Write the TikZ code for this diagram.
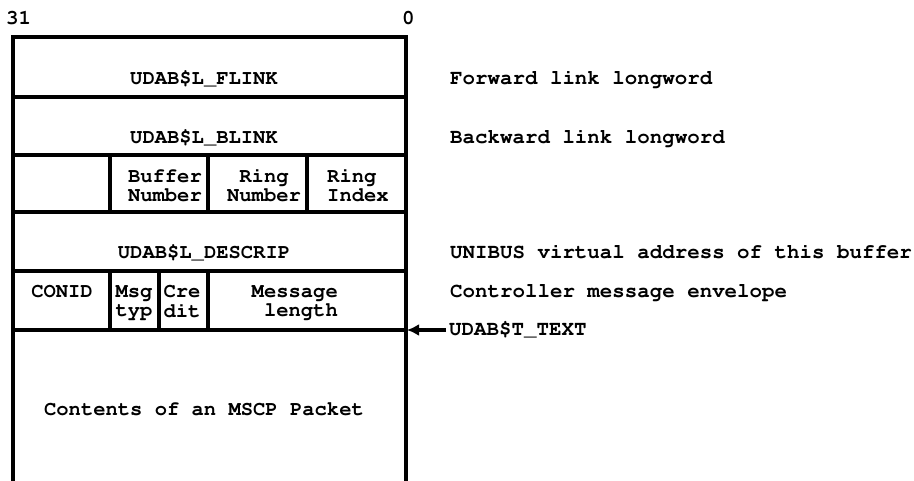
\documentclass[tikz,border=0pt]{standalone}
\usepackage[T1]{fontenc}
\usetikzlibrary{arrows.meta}
\newcommand{\cour}[1]{\fontfamily{pcr}\fontseries{b}\fontsize{#1}{19}\selectfont}
\begin{document}
\begin{tikzpicture}[x=1pt,y=-1pt,
  txt/.style={font=\cour{20.5}, inner sep=0pt, anchor=base},
  lbl/.style={font=\cour{20.8}, inner sep=0pt, anchor=base west},
  rule/.style={line width=3.6pt, line join=miter, line cap=butt},
  ptr/.style={line width=4pt, -{Latex[length=12pt,width=12pt]}}]
\useasboundingbox (0,0) rectangle (914,481);
% outline (open at the bottom)
\draw[rule] (13,481) -- (13,37) -- (406,37) -- (406,481);
% horizontal rules
\foreach \yy in {97,155,212,271,330} \draw[rule] (13,\yy) -- (406,\yy);
% row 3 dividers
\foreach \xx in {110,208,307} \draw[rule] (\xx,155) -- (\xx,212);
% row 5 dividers
\foreach \xx in {110,159,208} \draw[rule] (\xx,271) -- (\xx,330);
% bit numbers
\node[lbl] (b31) at (6,25) {31};
\node[lbl] (b0) at (402,25) {0};
% field texts
\node[txt] (flink) at (204,85) {UDAB\$L\_FLINK};
\node[txt] (blink) at (204,144) {UDAB\$L\_BLINK};
\node[txt, anchor=base east] (bufnum) at (202,183) {\begin{tabular}[t]{@{}r@{}}Buffer\\Number\end{tabular}};
\node[txt] (ringnum) at (264,183) {\begin{tabular}[t]{@{}c@{}}Ring\\Number\end{tabular}};
\node[txt, anchor=base west] (ringidx) at (327,183) {\begin{tabular}[t]{@{}l@{}}Ring\\Index\end{tabular}};
\node[txt] (descrip) at (204,259) {UDAB\$L\_DESCRIP};
\node[txt] (conid) at (62,298) {CONID};
\node[txt] (msgtyp) at (134,298) {\begin{tabular}[t]{@{}c@{}}Msg\\typ\end{tabular}};
\node[txt] (credit) at (182,298) {\begin{tabular}[t]{@{}c@{}}Cre\\dit\end{tabular}};
\node[txt, anchor=base east] (msglen) at (338,298) {\begin{tabular}[t]{@{}r@{}}Message\\length\end{tabular}};
\node[txt] (contents) at (204,415) {Contents of an MSCP Packet};
% descriptions
\node[lbl] (dflink) at (450,85) {Forward link longword};
\node[lbl] (dblink) at (450,144) {Backward link longword};
\node[lbl] (ddescrip) at (450,259) {UNIBUS virtual address of this buffer};
\node[lbl] (denv) at (450,298) {Controller message envelope};
\node[lbl] (ttext) at (449,336) {UDAB\$T\_TEXT};
% pointer
\coordinate (tip) at (407,330);
\draw[ptr] ([xshift=-3pt]ttext.base west |- tip) -- (tip);
\end{tikzpicture}
\end{document}
